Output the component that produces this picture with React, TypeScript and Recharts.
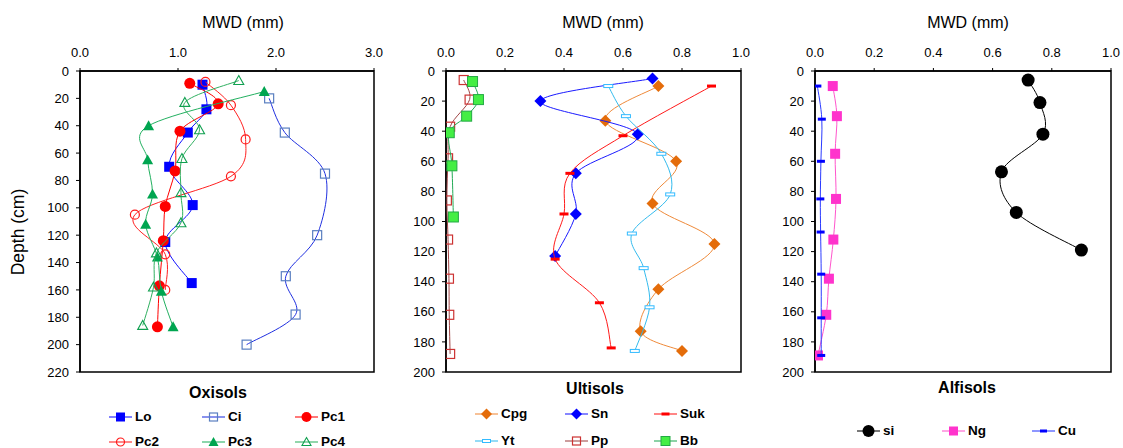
import React from 'react'
import { ScatterChart, Scatter, XAxis, YAxis, ReferenceArea } from 'recharts'

// each pair is [depth (cm), MWD (mm)]
// Oxisols
const lo = [[10, 1.25], [28, 1.29], [45, 1.10], [70, 0.91], [98, 1.15], [125, 0.87], [155, 1.14]]
const ci = [[20, 1.93], [45, 2.09], [75, 2.50], [120, 2.42], [150, 2.10], [178, 2.20], [200, 1.70]]
const pc1 = [[9, 1.12], [24, 1.41], [44, 1.02], [73, 0.97], [99, 0.87], [124, 0.85], [157, 0.81], [187, 0.79]]
const pc2 = [[8, 1.28], [25, 1.54], [50, 1.69], [77, 1.54], [105, 0.56], [134, 0.87], [160, 0.87]]
const pc3 = [[15, 1.88], [40, 0.70], [65, 0.69], [90, 0.74], [112, 0.67], [136, 0.79], [161, 0.83], [187, 0.95]]
const pc4 = [[7, 1.62], [23, 1.07], [43, 1.22], [64, 1.04], [89, 1.03], [111, 1.03], [133, 0.78], [158, 0.75], [186, 0.64]]

// Ultisols
const cpg = [[10, 0.72], [33, 0.54], [60, 0.78], [88, 0.70], [115, 0.91], [145, 0.72], [173, 0.66], [186, 0.80]]
const sn = [[5, 0.70], [20, 0.32], [42, 0.65], [68, 0.44], [95, 0.44], [123, 0.37]]
const suk = [[10, 0.90], [43, 0.60], [68, 0.42], [95, 0.40], [125, 0.37], [154, 0.52], [184, 0.56]]
const yt = [[10, 0.55], [30, 0.61], [55, 0.73], [82, 0.76], [108, 0.63], [131, 0.67], [157, 0.69], [186, 0.64]]
const pp = [[6, 0.06], [19, 0.08], [37, 0.014], [58, 0.007], [86, 0.003], [112, 0.007], [138, 0.01], [162, 0.011], [188, 0.014]]
const bb = [[7, 0.09], [19, 0.11], [30, 0.07], [41, 0.011], [63, 0.02], [97, 0.025]]

// Alfisols
const si = [[6, 0.72], [21, 0.76], [42, 0.77], [67, 0.63], [94, 0.68], [119, 0.90]]
const ng = [[10, 0.06], [30, 0.074], [55, 0.068], [85, 0.071], [112, 0.062], [138, 0.047], [162, 0.038], [189, 0.01]]
const cu = [[10, 0.008], [32, 0.023], [60, 0.02], [85, 0.018], [107, 0.019], [135, 0.021], [164, 0.021], [189, 0.021]]

const oxXTicks = [0, 1, 2, 3]
const fracXTicks = [0, 0.2, 0.4, 0.6, 0.8, 1]
const oxYTicks = [0, 20, 40, 60, 80, 100, 120, 140, 160, 180, 200, 220]
const yTicks200 = [0, 20, 40, 60, 80, 100, 120, 140, 160, 180, 200]

const FONT = 'Arial, "Liberation Sans", sans-serif'

// smooth line through the points (catmull-rom as bezier segments)
const smooth = (ctx: any) => {
  let pts: number[][] = []
  return {
    areaStart() {},
    areaEnd() {},
    lineStart() { pts = [] },
    point(x: number, y: number) { pts.push([+x, +y]) },
    lineEnd() {
      if (!pts.length) return
      ctx.moveTo(pts[0][0], pts[0][1])
      for (let i = 0; i < pts.length - 1; i++) {
        const p0 = pts[i - 1] ?? pts[i]
        const p1 = pts[i]
        const p2 = pts[i + 1]
        const p3 = pts[i + 2] ?? p2
        ctx.bezierCurveTo(
          p1[0] + (p2[0] - p0[0]) / 6, p1[1] + (p2[1] - p0[1]) / 6,
          p2[0] - (p3[0] - p1[0]) / 6, p2[1] - (p3[1] - p1[1]) / 6,
          p2[0], p2[1]
        )
      }
    },
  }
}

type Kind = 'square' | 'squareOpen' | 'circle' | 'circleOpen' | 'triangle' | 'triangleOpen' | 'diamond' | 'dash' | 'dashOpen'

interface Series {
  name: string
  data: number[][]
  kind: Kind
  fill: string
  stroke: string
  line: string
  size: number
}

function Marker({ kind, x, y, s, fill, stroke }: { kind: Kind; x: number; y: number; s: number; fill: string; stroke: string }) {
  const h = s / 2
  switch (kind) {
    case 'square':
      return <rect x={x - h} y={y - h} width={s} height={s} fill={fill} stroke={stroke} strokeWidth={1} />
    case 'squareOpen':
      return <rect x={x - h + 0.5} y={y - h + 0.5} width={s - 1} height={s - 1} fill="none" stroke={stroke} strokeWidth={1.2} />
    case 'circle':
      return <circle cx={x} cy={y} r={h} fill={fill} />
    case 'circleOpen':
      return <circle cx={x} cy={y} r={h - 0.5} fill="none" stroke={stroke} strokeWidth={1.2} />
    case 'triangle':
      return <polygon points={`${x},${y - h} ${x + h},${y + h * 0.8} ${x - h},${y + h * 0.8}`} fill={fill} />
    case 'triangleOpen':
      return <polygon points={`${x},${y - h + 0.5} ${x + h - 0.5},${y + h * 0.8 - 0.5} ${x - h + 0.5},${y + h * 0.8 - 0.5}`} fill="none" stroke={stroke} strokeWidth={1.1} />
    case 'diamond':
      return <polygon points={`${x},${y - h} ${x + h},${y} ${x},${y + h} ${x - h},${y}`} fill={fill} />
    case 'dash':
      return <rect x={x - h} y={y - 1.5} width={s} height={3} fill={fill} />
    case 'dashOpen':
      return <rect x={x - h} y={y - 1.5} width={s} height={3} fill="#fff" stroke={stroke} strokeWidth={1} />
  }
  return null
}

const oxSeries: Series[] = [
  { name: 'Lo', data: lo, kind: 'square', fill: '#0000ff', stroke: 'none', line: '#1010ff', size: 10 },
  { name: 'Ci', data: ci, kind: 'squareOpen', fill: 'none', stroke: '#5a7fc0', line: '#2030e0', size: 10 },
  { name: 'Pc1', data: pc1, kind: 'circle', fill: '#ff0000', stroke: 'none', line: '#ff0000', size: 11 },
  { name: 'Pc2', data: pc2, kind: 'circleOpen', fill: 'none', stroke: '#ff1a1a', line: '#ff2020', size: 10 },
  { name: 'Pc3', data: pc3, kind: 'triangle', fill: '#00a550', stroke: 'none', line: '#22b060', size: 11 },
  { name: 'Pc4', data: pc4, kind: 'triangleOpen', fill: 'none', stroke: '#10a050', line: '#30b060', size: 11 },
]

const ultSeries: Series[] = [
  { name: 'Cpg', data: cpg, kind: 'diamond', fill: '#e46c0a', stroke: 'none', line: '#ef8a3a', size: 12 },
  { name: 'Sn', data: sn, kind: 'diamond', fill: '#0000ff', stroke: 'none', line: '#1a1aff', size: 12 },
  { name: 'Suk', data: suk, kind: 'dash', fill: '#ff0000', stroke: 'none', line: '#ff1a1a', size: 9 },
  { name: 'Yt', data: yt, kind: 'dashOpen', fill: '#fff', stroke: '#33bbff', line: '#33bbee', size: 9 },
  { name: 'Pp', data: pp, kind: 'squareOpen', fill: 'none', stroke: '#cc3333', line: '#a04545', size: 10 },
  { name: 'Bb', data: bb, kind: 'square', fill: '#44ee44', stroke: '#22aa44', line: '#22aa55', size: 10 },
]

const alfSeries: Series[] = [
  { name: 'si', data: si, kind: 'circle', fill: '#000000', stroke: 'none', line: '#000000', size: 13 },
  { name: 'Ng', data: ng, kind: 'square', fill: '#ff33cc', stroke: 'none', line: '#ff55cc', size: 10 },
  { name: 'Cu', data: cu, kind: 'dash', fill: '#0000ff', stroke: 'none', line: '#2a3aff', size: 8 },
]

interface PanelProps {
  series: Series[]
  left: number
  width: number
  marginLeft: number
  marginRight: number
  xMax: number
  xTicks: number[]
  yMax: number
  yTicks: number[]
}

function Panel({ series, left, width, marginLeft, marginRight, xMax, xTicks, yMax, yTicks }: PanelProps) {
  const tick = { fill: '#000', fontSize: 13, fontFamily: FONT }
  return (
    <div style={{ position: 'absolute', left, top: 0 }}>
      <ScatterChart width={width} height={380} margin={{ top: 41, right: marginRight, bottom: 8, left: marginLeft }}>
        <XAxis
          type="number"
          dataKey="v"
          orientation="top"
          domain={[0, xMax]}
          ticks={xTicks}
          allowDataOverflow
          tickFormatter={(v: number) => v.toFixed(1)}
          height={30}
          tickSize={3}
          tickMargin={11}
          axisLine={{ stroke: '#000', strokeWidth: 1.5 }}
          tickLine={{ stroke: '#000' }}
          tick={tick}
        />
        <YAxis
          type="number"
          dataKey="d"
          reversed
          domain={[0, yMax]}
          ticks={yTicks}
          allowDataOverflow
          width={50}
          tickSize={4}
          tickMargin={7}
          axisLine={{ stroke: '#000', strokeWidth: 1.5 }}
          tickLine={{ stroke: '#000' }}
          tick={tick}
        />
        <ReferenceArea x1={0} x2={xMax} y1={0} y2={yMax} fill="none" stroke="#000" strokeWidth={1.5} fillOpacity={0} />
        {series.map((s) => (
          <Scatter
            key={s.name}
            name={s.name}
            data={s.data.map(([d, v]) => ({ d, v }))}
            fill={s.line}
            line={{ stroke: s.line, strokeWidth: 1 }}
            lineType="joint"
            lineJointType={smooth as any}
            shape={(p: any) => <Marker kind={s.kind} x={p.cx} y={p.cy} s={s.size} fill={s.fill} stroke={s.stroke} />}
            isAnimationActive={false}
          />
        ))}
      </ScatterChart>
    </div>
  )
}

function Text({ x, y, size, bold, children }: { x: number; y: number; size: number; bold?: boolean; children: React.ReactNode }) {
  return (
    <div
      style={{
        position: 'absolute', left: x, top: y, transform: 'translate(-50%, -50%)',
        fontSize: size, fontWeight: bold ? 'bold' : 'normal', lineHeight: 1, whiteSpace: 'nowrap',
      }}
    >
      {children}
    </div>
  )
}

function LegendItem({ s, x, y }: { s: Series; x: number; y: number }) {
  return (
    <div style={{ position: 'absolute', left: x, top: y, transform: 'translateY(-50%)', display: 'flex', alignItems: 'center', lineHeight: 1 }}>
      <svg width={23} height={14}>
        <line x1={0} x2={23} y1={7} y2={7} stroke={s.line} strokeOpacity={0.7} strokeWidth={1.5} />
        <Marker kind={s.kind} x={11.5} y={7} s={s.size - 1} fill={s.fill} stroke={s.stroke} />
      </svg>
      <span style={{ marginLeft: 3, fontSize: 13.5, fontWeight: 'bold' }}>{s.name}</span>
    </div>
  )
}

export default function App() {
  const oxCols = [109, 202, 295]
  const ultCols = [475, 565, 654]
  const alfCols = [857, 942, 1032]
  return (
    <div style={{ position: 'absolute', left: 0, top: 0, width: 1123, height: 448, background: '#fff', fontFamily: FONT, color: '#000', overflow: 'hidden' }}>
      <Panel series={oxSeries} left={0} width={390} marginLeft={30} marginRight={16} xMax={3} xTicks={oxXTicks} yMax={220} yTicks={oxYTicks} />
      <Panel series={ultSeries} left={390} width={370} marginLeft={6} marginRight={19} xMax={1} xTicks={fracXTicks} yMax={200} yTicks={yTicks200} />
      <Panel series={alfSeries} left={760} width={363} marginLeft={5} marginRight={12} xMax={1} xTicks={fracXTicks} yMax={200} yTicks={yTicks200} />

      <Text x={243} y={23} size={16}>MWD (mm)</Text>
      <Text x={603} y={23} size={16}>MWD (mm)</Text>
      <Text x={968} y={23} size={16}>MWD (mm)</Text>

      <div style={{ position: 'absolute', left: 19, top: 232, transform: 'translate(-50%, -50%) rotate(-90deg)', fontSize: 17.5, lineHeight: 1, whiteSpace: 'nowrap' }}>
        Depth (cm)
      </div>

      <Text x={218} y={393} size={16} bold>Oxisols</Text>
      <Text x={595} y={389} size={16} bold>Ultisols</Text>
      <Text x={967} y={388} size={16} bold>Alfisols</Text>

      {oxSeries.map((s, i) => (
        <LegendItem key={s.name} s={s} x={oxCols[i % 3]} y={i < 3 ? 417 : 442} />
      ))}
      {ultSeries.map((s, i) => (
        <LegendItem key={s.name} s={s} x={ultCols[i % 3]} y={i < 3 ? 414 : 441} />
      ))}
      {alfSeries.map((s, i) => (
        <LegendItem key={s.name} s={s} x={alfCols[i]} y={431} />
      ))}
    </div>
  )
}
